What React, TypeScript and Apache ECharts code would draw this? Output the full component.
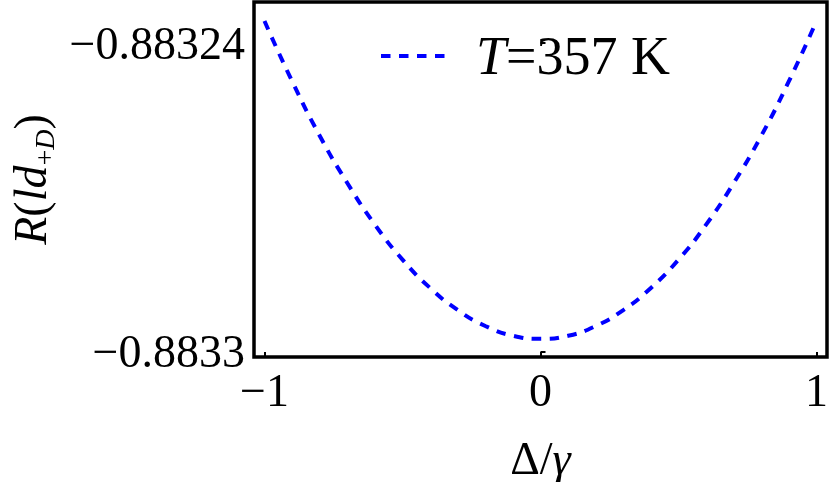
import React, { useEffect, useRef } from "react";
import * as echarts from "echarts";

const deltaOverGamma = [-1, -0.9, -0.8, -0.7, -0.6, -0.5, -0.4, -0.3, -0.2, -0.1, 0, 0.1, 0.2, 0.3, 0.4, 0.5, 0.6, 0.7, 0.8, 0.9, 1];
const rValues = [
  -0.8832357, -0.8832474, -0.883258, -0.8832672, -0.8832753, -0.8832821, -0.8832876, -0.8832919, -0.883295, -0.8832969,
  -0.8832975,
  -0.8832969, -0.883295, -0.8832919, -0.8832876, -0.8832821, -0.8832753, -0.8832672, -0.883258, -0.8832474, -0.8832357,
];
const xTickValues = [-1, 0, 1];
const yTickValues = [-0.8833, -0.88324];
const seriesName = "T=357 K";

const FONT = "'Liberation Serif', 'DejaVu Serif', 'Times New Roman', serif";
const BLUE = "#0000ff";
const DASH = [9.5, 8.5];

const fmt = (v: number) => (v < 0 ? "\u2212" + String(Math.abs(v)) : String(v));

export default function App() {
  const ref = useRef<HTMLDivElement>(null);
  useEffect(() => {
    const chart = echarts.init(ref.current!, null, { renderer: "svg" });
    chart.setOption({
      animation: false,
      grid: {
        left: 254,
        right: 3,
        top: 2,
        bottom: 125,
        outerBoundsMode: "none",
        containLabel: false,
        show: true,
        borderColor: "#000",
        borderWidth: 3.5,
        backgroundColor: "transparent",
      },
      legend: {
        left: 379,
        top: 29,
        padding: 0,
        itemWidth: 64,
        itemHeight: 14,
        itemGap: 0,
        data: [seriesName],
        formatter: () => "{i|T}{n|=357 K}",
        itemStyle: { opacity: 0, borderWidth: 0 },
        lineStyle: { color: BLUE, width: 4, type: DASH, opacity: 1 },
        textStyle: {
          fontFamily: FONT,
          fontSize: 54,
          color: "#000",
          padding: [0, 0, 0, 26],
          rich: {
            i: { fontFamily: FONT, fontSize: 54, fontStyle: "italic", color: "#000" },
            n: { fontFamily: FONT, fontSize: 54, color: "#000" },
          },
        },
      },
      xAxis: {
        type: "value",
        min: -1.038,
        max: 1.038,
        splitLine: { show: false },
        axisLine: { show: false },
        axisTick: {
          show: true,
          inside: true,
          length: 5,
          lineStyle: { color: "#000", width: 2 },
          customValues: xTickValues,
        },
        axisLabel: {
          customValues: xTickValues,
          formatter: fmt,
          fontFamily: FONT,
          fontSize: 46,
          color: "#000",
          margin: 10,
        },
        name: "{n|\u0394/}{i|\u03b3}",
        nameLocation: "middle",
        nameGap: 78,
        nameTextStyle: {
          fontFamily: FONT,
          fontSize: 46,
          color: "#000",
          rich: {
            n: { fontFamily: FONT, fontSize: 46, color: "#000" },
            i: { fontFamily: FONT, fontSize: 46, fontStyle: "italic", color: "#000" },
          },
        },
      },
      yAxis: {
        type: "value",
        min: -0.88330103,
        max: -0.883232,
        splitLine: { show: false },
        axisLine: { show: false },
        axisTick: {
          show: true,
          inside: true,
          length: 5,
          lineStyle: { color: "#000", width: 2 },
          customValues: yTickValues,
        },
        axisLabel: {
          customValues: yTickValues,
          formatter: fmt,
          fontFamily: FONT,
          fontSize: 46,
          color: "#000",
          margin: 9,
        },
        name: "{i|R}{n|(}{i|ld}{s|+}{si|D}{n|)}",
        nameLocation: "middle",
        nameRotate: 90,
        nameGap: 201,
        nameTextStyle: {
          fontFamily: FONT,
          fontSize: 46,
          color: "#000",
          rich: {
            n: { fontFamily: FONT, fontSize: 46, lineHeight: 46, color: "#000" },
            i: { fontFamily: FONT, fontSize: 46, lineHeight: 46, fontStyle: "italic", color: "#000" },
            s: { fontFamily: FONT, fontSize: 28, lineHeight: 28, color: "#000", padding: [28, 0, 0, 0] },
            si: { fontFamily: FONT, fontSize: 28, lineHeight: 28, fontStyle: "italic", color: "#000", padding: [28, 0, 0, 0] },
          },
        },
      },
      series: [
        {
          type: "line",
          name: seriesName,
          data: deltaOverGamma.map((x, i) => [x, rValues[i]]),
          symbol: "none",
          showSymbol: false,
          smooth: true,
          lineStyle: { color: BLUE, width: 4, type: DASH },
          itemStyle: { color: BLUE },
        },
      ],
    });
    return () => chart.dispose();
  }, []);
  return <div ref={ref} style={{ position: "fixed", left: 0, top: 0, width: 830, height: 482 }} />;
}
